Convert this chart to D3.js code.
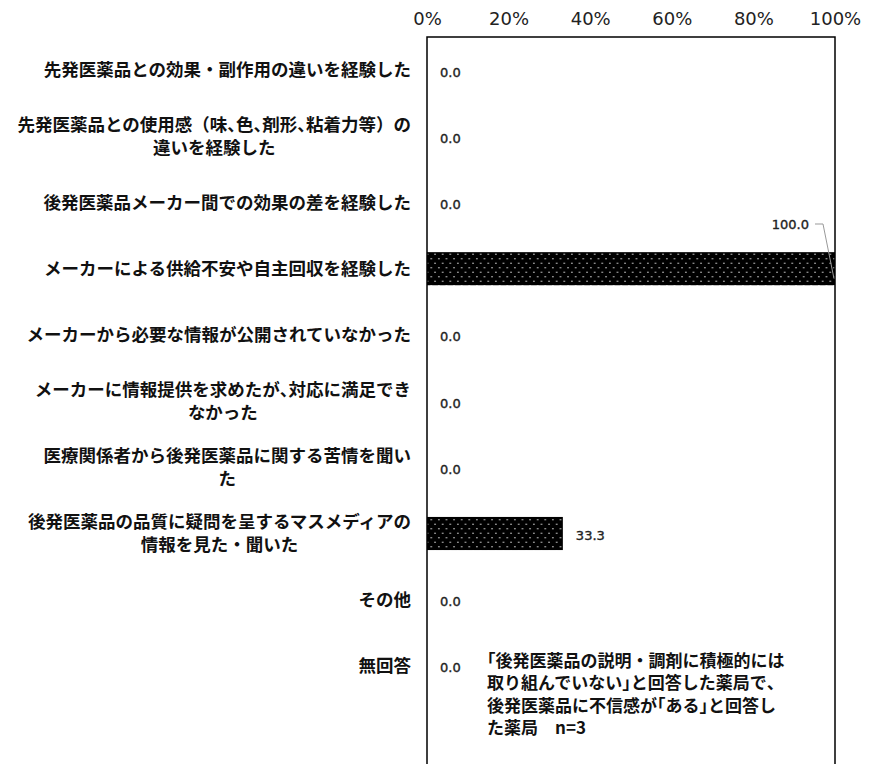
<!DOCTYPE html>
<html><head><meta charset="utf-8">
<script src="https://cdn.jsdelivr.net/npm/d3@7"></script>
<style>
html,body{margin:0;padding:0;background:#fff;}
svg{display:block;}
.half{font-feature-settings:"halt";}
</style></head>
<body>
<svg id="chart" width="883" height="764"></svg>
<script>
const categories = [
  "先発医薬品との効果・副作用の違いを経験した",
  "先発医薬品との使用感（味、色、剤形、粘着力等）の\n違いを経験した",
  "後発医薬品メーカー間での効果の差を経験した",
  "メーカーによる供給不安や自主回収を経験した",
  "メーカーから必要な情報が公開されていなかった",
  "メーカーに情報提供を求めたが、対応に満足でき\nなかった",
  "医療関係者から後発医薬品に関する苦情を聞い\nた",
  "後発医薬品の品質に疑問を呈するマスメディアの\n情報を見た・聞いた",
  "その他",
  "無回答"
];
const values = [0.0, 0.0, 0.0, 100.0, 0.0, 0.0, 0.0, 33.3, 0.0, 0.0];
const tickValues = [0, 20, 40, 60, 80, 100];
const tickLabels = ["0%", "20%", "40%", "60%", "80%", "100%"];
const noteLines = [
  "「後発医薬品の説明・調剤に積極的には",
  "取り組んでいない」と回答した薬局で、",
  "後発医薬品に不信感が「ある」と回答し",
  "た薬局　n=3"
];

const svg = d3.select("#chart");
const jp = "'Noto Sans CJK JP','Noto Sans',sans-serif";
const halfChars = /([、「」])/;

function addSegments(tspanParent, text) {
  text.split(halfChars).filter(s => s.length).forEach(seg => {
    const s = tspanParent.append("tspan").text(seg);
    if (halfChars.test(seg)) s.attr("class", "half");
  });
}

const x = d3.scaleLinear().domain([0, 100]).range([427, 835]);
const y = d3.scaleBand().domain(categories).range([37, 699]).paddingInner(0.5).paddingOuter(0.25);

// pattern
const defs = svg.append("defs");
const pat = defs.append("pattern").attr("id", "dots").attr("patternUnits", "userSpaceOnUse")
  .attr("width", 7.6).attr("height", 9);
pat.append("rect").attr("width", 7.6).attr("height", 9).attr("fill", "#000");
pat.append("circle").attr("cx", 1.9).attr("cy", 2.2).attr("r", 0.75).attr("fill", "#ddd");
pat.append("circle").attr("cx", 5.7).attr("cy", 6.7).attr("r", 0.75).attr("fill", "#ddd");

// axis on top
const axis = d3.axisTop(x).tickValues(tickValues).tickFormat((d, i) => tickLabels[i]).tickSize(0).tickPadding(0);
const ag = svg.append("g").attr("transform", "translate(0,25)").call(axis);
ag.select(".domain").remove();
ag.selectAll("text").attr("font-family", "'DejaVu Sans',sans-serif").attr("font-size", 18)
  .attr("fill", "#222").attr("dy", 0);

// bars
svg.append("g").selectAll("rect").data(values).join("rect")
  .attr("x", x(0))
  .attr("y", (d, i) => y(categories[i]))
  .attr("width", d => x(d) - x(0))
  .attr("height", y.bandwidth())
  .attr("fill", "url(#dots)");

// frame
svg.append("path")
  .attr("d", `M${x(0)},800V37H${x(100)}V800`)
  .attr("fill", "none").attr("stroke", "#000").attr("stroke-width", 1.5);

// category labels
const lg = svg.append("g");
categories.forEach((c, i) => {
  const lines = c.split("\n");
  const cy = y(c) + y.bandwidth() / 2;
  const lh = 23;
  const t = lg.append("text").attr("text-anchor", "middle")
    .attr("font-family", jp).attr("font-weight", 700).attr("font-size", 17.5).attr("fill", "#111");
  lines.forEach((ln, k) => {
    const ts = t.append("tspan")
      .attr("class", "line")
      .attr("x", 0)
      .attr("y", cy + (k - (lines.length - 1) / 2) * lh)
      .attr("dy", "0.36em");
    addSegments(ts, ln);
  });
});
lg.selectAll("text").each(function() {
  const lines = d3.select(this).selectAll("tspan.line").nodes();
  const w0 = lines[0].getComputedTextLength();
  const cx = 411 - w0 / 2;
  lines.forEach(s => d3.select(s).attr("x", cx));
});

// value labels
svg.append("g").selectAll("text").data(values).join("text")
  .attr("x", d => d >= 99 ? 809 : x(d) + 13)
  .attr("y", (d, i) => d >= 99 ? 224 : y(categories[i]) + y.bandwidth() / 2 + 2)
  .attr("dy", "0.35em")
  .attr("text-anchor", d => d >= 99 ? "end" : "start")
  .attr("font-family", "'DejaVu Sans',sans-serif").attr("font-size", 13)
  .attr("fill", "#222").attr("stroke", "#222").attr("stroke-width", 0.35)
  .text(d => d.toFixed(1));

// leader line for 100
const iMax = values.indexOf(d3.max(values));
svg.append("path")
  .attr("d", `M815,224H823L${x(values[iMax]) - 1},${y(categories[iMax]) + y.bandwidth() * 0.8}`)
  .attr("fill", "none").attr("stroke", "#999").attr("stroke-width", 1);

// note
const nt = svg.append("text").attr("font-family", jp).attr("font-weight", 700)
  .attr("font-size", 17).attr("fill", "#111");
noteLines.forEach((ln, k) => {
  const ts = nt.append("tspan").attr("x", 487).attr("y", 667 + k * 22.3);
  addSegments(ts, ln);
});
</script>
</body></html>
